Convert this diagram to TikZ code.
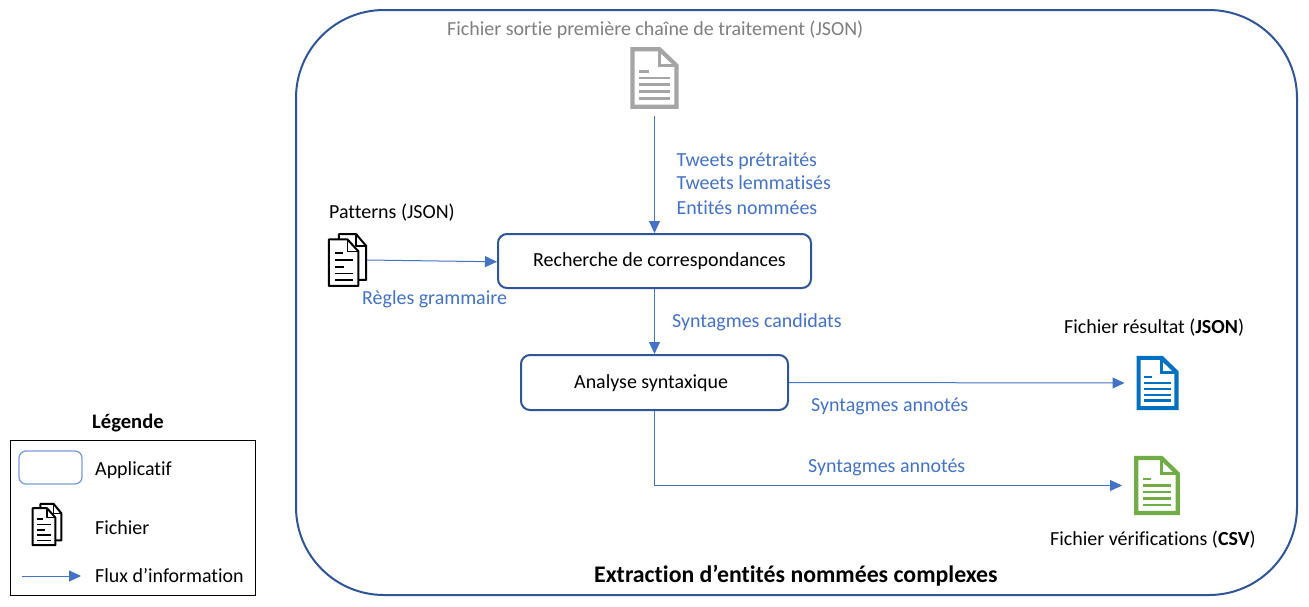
\documentclass[tikz,border=0pt]{standalone}
\usepackage{fontspec}
\setmainfont{Carlito}[Ligatures=CommonOff]
\usetikzlibrary{arrows.meta}
\definecolor{flow}{HTML}{4472C4}
\definecolor{frame}{HTML}{2F5597}
\definecolor{greytxt}{HTML}{7F7F7F}
\definecolor{greydoc}{HTML}{A5A5A5}
\definecolor{bluedoc}{HTML}{0070C0}
\definecolor{greendoc}{HTML}{70AD47}
\newcommand{\docicon}[6]{% name, cx, cy, w, h, colour
  \node[docbox,minimum width=#4pt,minimum height=#5pt] (#1) at (#2,#3) {};
  \begin{scope}[shift={(#1.north west)},x=#4pt,y=-#5pt]
    \draw[#6,line width=4.2pt,miter limit=4] (.05,.035) -- (.6,.035) -- (.95,.3) -- (.95,.965) -- (.05,.965) -- cycle;
    \draw[#6,line width=3pt] (.6,.035) -- (.6,.3) -- (.95,.3);
    \draw[#6,line width=2.7pt] (.19,.39) -- (.38,.39) (.19,.5) -- (.81,.5) (.19,.61) -- (.81,.61) (.19,.72) -- (.81,.72) (.19,.83) -- (.81,.83);
  \end{scope}
}
\newcommand{\stackicon}[5]{% name, cx, cy, w, h
  \node[docbox,minimum width=#4pt,minimum height=#5pt] (#1) at (#2,#3) {};
  \begin{scope}[shift={(#1.north west)},x=#4pt,y=-#5pt,line join=round]
    \draw[black,fill=white,line width=2pt] (.28,.02) -- (.72,.02) -- (.98,.24) -- (.98,.87) -- (.28,.87) -- cycle;
    \draw[black,line width=1.5pt] (.72,.02) -- (.72,.24) -- (.98,.24);
    \draw[black,fill=white,line width=2pt] (.02,.12) -- (.5,.12) -- (.78,.34) -- (.78,.98) -- (.02,.98) -- cycle;
    \draw[black,line width=1.5pt] (.5,.12) -- (.5,.34) -- (.78,.34);
    \draw[black,line width=1.7pt] (.17,.37) -- (.38,.37) (.17,.5) -- (.64,.5) (.17,.63) -- (.42,.63) (.17,.75) -- (.64,.75) (.17,.87) -- (.64,.87);
  \end{scope}
}
\begin{document}
\begin{tikzpicture}[x=1pt,y=-1pt,
  docbox/.style={inner sep=0pt,outer sep=0pt,draw=none},
  flowline/.style={flow,line width=1pt,-{Triangle[length=12pt,width=11pt]}},
  appbox/.style={draw=frame,line width=2pt,rounded corners=9pt,fill=white,inner sep=0pt},
  txt/.style={font=\fontsize{19.95}{22}\selectfont,inner sep=0pt,anchor=base west,text=black,yshift=-1pt},
  bluetxt/.style={txt,text=flow}]
\useasboundingbox (0,0) rectangle (1309,606);
\fill[white] (0,0) rectangle (1309,606);

% main frame
\node[draw=frame,line width=2pt,rounded corners=88pt,minimum width=1001pt,minimum height=585pt,inner sep=0pt] (main) at (796.5,302.5) {};

% processes
\node[appbox,minimum width=313pt,minimum height=54pt] (rech) at (654.5,261) {};
\node[appbox,minimum width=267pt,minimum height=55pt] (ana) at (654.5,382.5) {};
\node[txt] (rechT) at (533,265.5) {Recherche de correspondances};
\node[txt] (anaT) at (574,387.5) {Analyse syntaxique};

% files
\docicon{src}{654.5}{78}{49}{62}{greydoc}
\stackicon{pat}{347.5}{260}{39}{54}
\docicon{res}{1157.5}{383}{42}{54}{bluedoc}
\docicon{ver}{1157}{485.5}{46}{59}{greendoc}

% file labels
\node[txt,text=greytxt] (srcT) at (447,34.5) {Fichier sortie première chaîne de traitement (JSON)};
\node[txt] (patT) at (329,217.5) {Patterns (JSON)};
\node[txt] (resT) at (1064,332.5) {Fichier résultat (\textbf{JSON})};
\node[txt] (verT) at (1050,544.5) {Fichier vérifications (\textbf{CSV})};

% connectors
\draw[flowline,shorten <=7pt] (src.south) -- (rech.north -| src.south);
\draw[flowline] (pat.east) -- ([yshift=-.8pt]rech.west);
\draw[flowline] (rech.south -| ana.north) -- (ana.north);
\draw[flowline,shorten >=12pt] (ana.east) -- (res.west);
\draw[flowline,shorten >=12pt] (ana.south) |- (ver.west);

% flow labels
\node[bluetxt] (l1) at (676.5,165) {Tweets prétraités};
\node[bluetxt] (l2) at (676.5,188) {Tweets lemmatisés};
\node[bluetxt] (l3) at (676.5,213) {Entités nommées};
\node[bluetxt] (l4) at (362,303) {Règles grammaire};
\node[bluetxt] (l5) at (672,326) {Syntagmes candidats};
\node[bluetxt] (l6) at (811,410) {Syntagmes annotés};
\node[bluetxt] (l7) at (808,471) {Syntagmes annotés};

% title
\node[txt,font=\fontsize{23.8}{26}\selectfont\bfseries] (title) at (594,581) {Extraction d’entités nommées complexes};

% legend
\node[txt,font=\fontsize{20.6}{22}\selectfont\bfseries] (legT) at (92,427) {Légende};
\node[draw=black,line width=1pt,minimum width=245pt,minimum height=155pt,inner sep=0pt] (leg) at (132.5,517.5) {};
\node[draw=flow!70,line width=1.3pt,rounded corners=7pt,minimum width=63pt,minimum height=33pt,inner sep=0pt] (legApp) at (50.5,467.5) {};
\stackicon{legDoc}{47}{524.5}{30}{43}
\coordinate (legA) at (22,576);
\coordinate (legB) at (81,576);
\draw[flowline] (legA) -- (legB);
\node[txt] (t1) at (95,474.5) {Applicatif};
\node[txt] (t2) at (95,533) {Fichier};
\node[txt] (t3) at (95,581.5) {Flux d’information};
\end{tikzpicture}
\end{document}
